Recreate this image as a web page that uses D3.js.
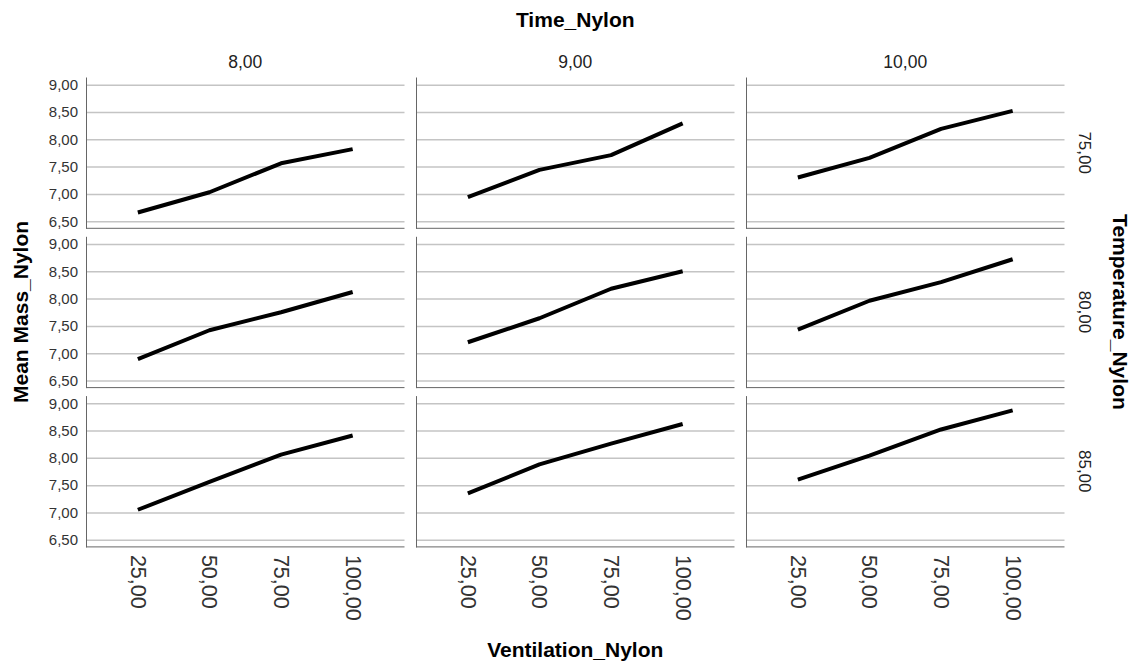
<!DOCTYPE html>
<html>
<head>
<meta charset="utf-8">
<script src="https://cdn.jsdelivr.net/npm/d3@7"></script>
<style>
  body { margin: 0; background: #fff; }
  svg { font-family: "Liberation Sans", Arial, sans-serif; }
</style>
</head>
<body>
<div id="chart"></div>
<script>
// Facet levels
const timeLevels = ["8,00", "9,00", "10,00"];
const tempLevels = ["75,00", "80,00", "85,00"];
const ventLevels = ["25,00", "50,00", "75,00", "100,00"];
const yTicks = [6.5, 7.0, 7.5, 8.0, 8.5, 9.0];

// Mean Mass_Nylon, one array per temperature row, one series per time column
const mass75 = [[6.66, 7.03, 7.56, 7.82], [6.94, 7.44, 7.71, 8.29], [7.30, 7.66, 8.19, 8.52]];
const mass80 = [[6.89, 7.42, 7.75, 8.12], [7.20, 7.64, 8.18, 8.50], [7.43, 7.96, 8.30, 8.72]];
const mass85 = [[7.05, 7.56, 8.06, 8.41], [7.35, 7.88, 8.26, 8.62], [7.60, 8.04, 8.52, 8.87]];
const massRows = [mass75, mass80, mass85];

const WIDTH = 1138, HEIGHT = 665;
const LEFT = 86, TOP = 77;
const PW = 318.5, PH = 151.3;   // panel size
const COL_STEP = 330, ROW_STEP = 159.3;

const svg = d3.select("#chart")
  .append("svg")
    .attr("width", WIDTH)
    .attr("height", HEIGHT);

// Scales shared by every panel
const x = d3.scalePoint().domain(ventLevels).range([0, PW]).padding(0.724);
const y = d3.scaleLinear().domain([6.37, 9.14]).range([PH, 0]);
const fmt = (v) => d3.format(".2f")(v).replace(".", ",");

const line = d3.line()
  .x((d, i) => x(ventLevels[i]))
  .y((d) => y(d));

massRows.forEach((row, r) => {
  row.forEach((series, c) => {
    const g = svg.append("g")
      .attr("transform", `translate(${LEFT + c * COL_STEP},${TOP + r * ROW_STEP})`);

    // horizontal grid lines
    g.append("g")
      .call(d3.axisLeft(y).tickValues(yTicks).tickSize(-PW).tickFormat(""))
      .call((a) => a.select(".domain").remove())
      .call((a) => a.selectAll("line").attr("stroke", "#c4c4c4").attr("stroke-width", 1.5));

    // left axis line (labels only on first column)
    const yAxis = g.append("g")
      .call(d3.axisLeft(y).tickValues(yTicks).tickSize(0).tickPadding(8).tickFormat(c === 0 ? fmt : ""));
    yAxis.select(".domain").attr("stroke", "#666").attr("stroke-width", 1);
    yAxis.selectAll("text")
      .attr("fill", "#333")
      .style("font-size", "15px");

    // bottom axis line
    const xAxis = g.append("g")
      .attr("transform", `translate(0,${PH})`)
      .call(d3.axisBottom(x).tickSize(0).tickFormat(""));
    xAxis.select(".domain").attr("d", `M0,0H${PW}`).attr("stroke", "#666");

    // tick labels along the bottom row
    if (r === massRows.length - 1) {
      g.selectAll(".vent")
        .data(ventLevels)
        .enter()
        .append("text")
          .attr("class", "vent")
          .attr("transform", (d) => `translate(${x(d)},${PH + 8}) rotate(90)`)
          .attr("dominant-baseline", "central")
          .attr("fill", "#333")
          .style("font-size", "21.5px")
          .text((d) => d);
    }

    // mean line
    g.append("path")
      .datum(series)
      .attr("fill", "none")
      .attr("stroke", "#000")
      .attr("stroke-width", 4)
      .attr("stroke-linejoin", "round")
      .attr("d", line);
  });
});

// Column strip labels (Time)
svg.selectAll(".timeLab")
  .data(timeLevels)
  .enter()
  .append("text")
    .attr("x", (d, i) => LEFT + i * COL_STEP + PW / 2)
    .attr("y", 68)
    .attr("text-anchor", "middle")
    .attr("fill", "#222")
    .style("font-size", "17.5px")
    .text((d) => d);

// Row strip labels (Temperature)
svg.selectAll(".tempLab")
  .data(tempLevels)
  .enter()
  .append("text")
    .attr("transform", (d, i) => `translate(1084,${TOP + i * ROW_STEP + PH / 2}) rotate(90)`)
    .attr("text-anchor", "middle")
    .attr("dominant-baseline", "central")
    .attr("fill", "#222")
    .style("font-size", "17px")
    .text((d) => d);

// Titles
const gridMidX = LEFT + (2 * COL_STEP + PW) / 2;
const gridMidY = TOP + (2 * ROW_STEP + PH) / 2;

svg.append("text")
  .attr("x", gridMidX)
  .attr("y", 27)
  .attr("text-anchor", "middle")
  .style("font-size", "21px")
  .style("font-weight", "bold")
  .text("Time_Nylon");

svg.append("text")
  .attr("x", gridMidX)
  .attr("y", 657)
  .attr("text-anchor", "middle")
  .style("font-size", "21px")
  .style("font-weight", "bold")
  .text("Ventilation_Nylon");

svg.append("text")
  .attr("transform", `translate(20,${gridMidY}) rotate(-90)`)
  .attr("text-anchor", "middle")
  .attr("dominant-baseline", "central")
  .style("font-size", "21px")
  .style("font-weight", "bold")
  .text("Mean Mass_Nylon");

svg.append("text")
  .attr("transform", `translate(1120,${gridMidY}) rotate(90)`)
  .attr("text-anchor", "middle")
  .attr("dominant-baseline", "central")
  .style("font-size", "21px")
  .style("font-weight", "bold")
  .text("Temperature_Nylon");
</script>
</body>
</html>
